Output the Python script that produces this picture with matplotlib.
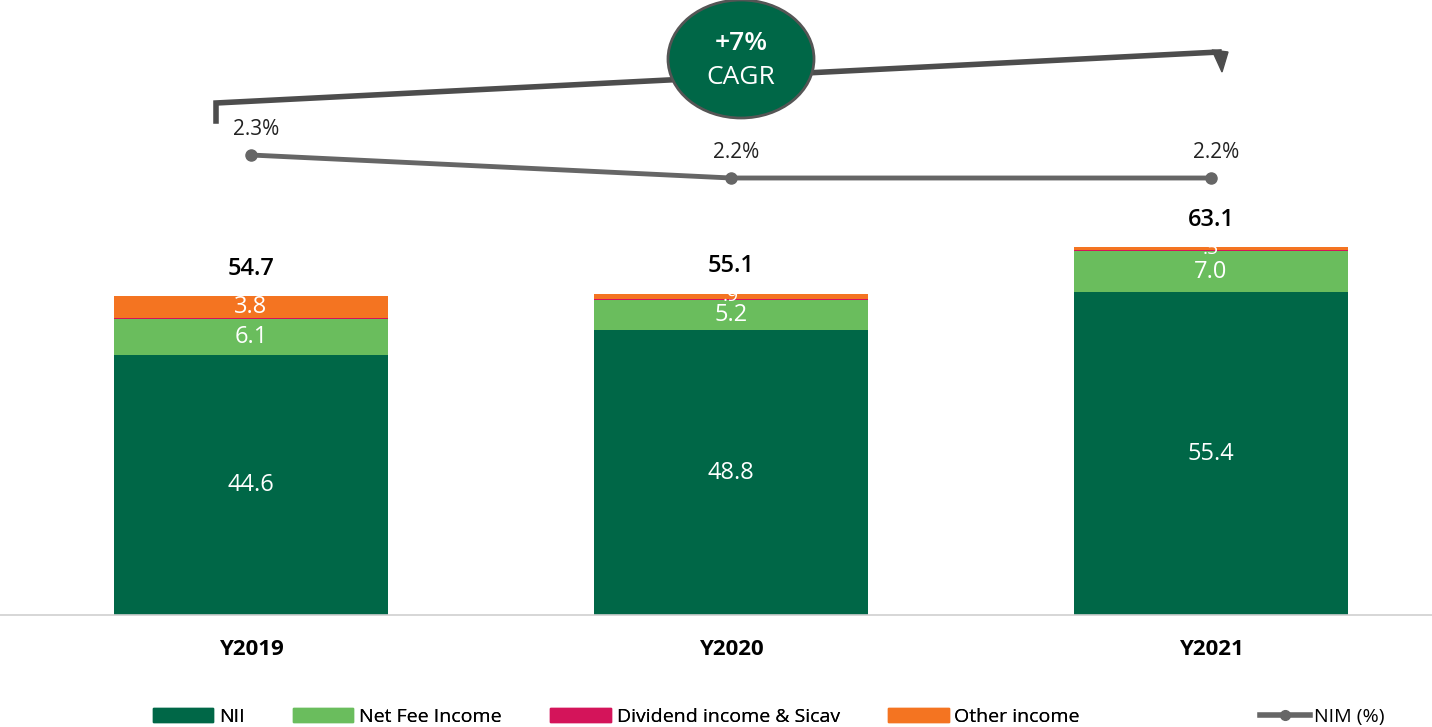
import matplotlib.pyplot as plt
import numpy as np
from matplotlib.patches import Ellipse, Polygon
from matplotlib.lines import Line2D
from matplotlib.patches import Patch

years = ['Y2019', 'Y2020', 'Y2021']
nii = [44.6, 48.8, 55.4]
fee = [6.1, 5.2, 7.0]
dividend = [0.2, 0.2, 0.2]
other = [3.8, 0.9, 0.5]
totals = [54.7, 55.1, 63.1]
nim = [2.3, 2.2, 2.2]

c_nii = '#006747'
c_fee = '#6abd5d'
c_div = '#d4145a'
c_oth = '#f47421'
c_nim = '#666666'

font = ['Open Sans', 'DejaVu Sans']

W, H = 1432, 727
fig = plt.figure(figsize=(W / 100, H / 100), dpi=100)
ax = fig.add_axes([0, 112 / H, 1, 615 / H])

x = np.arange(len(years))
bw = 0.57
series = [(nii, c_nii, 'NII'), (fee, c_fee, 'Net Fee Income'),
          (dividend, c_div, 'Dividend income & Sicav'), (other, c_oth, 'Other income')]
bottom = np.zeros(len(years))
for vals, col, name in series:
    ax.bar(x, vals, bw, bottom=bottom, color=col, edgecolor='none', label=name)
    for xi, b, v in zip(x, bottom, vals):
        if v >= 0.5:
            txt = f'{v:.1f}'
            if v < 1:
                txt = txt[1:]
            ax.text(xi, b + v / 2, txt, ha='center', va='center', color='white',
                    fontsize=17 if v >= 1 else 14, family=font)
    bottom += np.array(vals)

for xi, t, top in zip(x, totals, bottom):
    ax.annotate(f'{t:.1f}', (xi, top), xytext=(0, 11), textcoords='offset points',
                ha='center', va='bottom', fontsize=17, color='black',
                family=font, fontweight='semibold')

ax.set_xlim((0 - 251) / 480, (W - 251) / 480)
ax.set_ylim(0, 615 / 5.83)
ax.set_yticks([])
ax.set_xticks(x)
ax.set_xticklabels(years, fontsize=16, fontweight='bold', family=font)
ax.tick_params(axis='x', length=0, pad=17)
for s in ['top', 'right', 'left']:
    ax.spines[s].set_visible(False)
ax.spines['bottom'].set_color('#d0d0d0')
ax.spines['bottom'].set_linewidth(1.2)

ax2 = ax.twinx()
ax2.plot(x, nim, color=c_nim, lw=3.5, marker='o', ms=8)
ax2.set_ylim(2.2 - (615 - 178) / 230, 2.3 + 155 / 230)
ax2.set_yticks([])
for s in ['top', 'right', 'left', 'bottom']:
    ax2.spines[s].set_visible(False)
for xi, v in zip(x, nim):
    ax2.annotate(f'{v:.1f}%', (xi, v), xytext=(4, 11), textcoords='offset points',
                 ha='center', va='bottom', fontsize=15, color='#222222', family=font)


def px(a, b):
    return (a / W, 1 - b / H)


arrow_pts = [px(216, 121), px(216, 103), px(1219, 52)]
fig.add_artist(Line2D([p[0] for p in arrow_pts], [p[1] for p in arrow_pts],
                      transform=fig.transFigure, color='#4d4d4d', lw=4,
                      solid_joinstyle='miter'))
fig.add_artist(Polygon([px(1212, 50), px(1228, 52), px(1222, 72)], closed=True,
                       transform=fig.transFigure, color='#4d4d4d'))
fig.add_artist(Ellipse(px(741, 59), 146 / W, 118 / H, transform=fig.transFigure,
                       facecolor=c_nii, edgecolor='#555555', lw=2, zorder=5))
fig.text(741 / W, 1 - 43 / H, '+7%', ha='center', va='center', color='white',
         fontsize=19, fontweight='semibold', family=font, zorder=6)
fig.text(741 / W, 1 - 77 / H, 'CAGR', ha='center', va='center', color='white',
         fontsize=19, family=font, zorder=6)

lfont = {'family': font, 'size': 14}
handles = [Patch(color=c, label=n) for _, c, n in series]
leg = fig.legend(handles=handles, loc='center left', bbox_to_anchor=(145 / W, 1 - 717 / H),
                 ncol=4, frameon=False, prop=lfont, handlelength=3.1, handleheight=0.7,
                 columnspacing=2.5, handletextpad=0.3, borderaxespad=0)
fig.add_artist(leg)
nim_h = Line2D([0], [0], color=c_nim, lw=4, marker='o', ms=7, label='NIM (%)')
fig.legend(handles=[nim_h], loc='center left', bbox_to_anchor=(1252 / W, 1 - 717 / H),
           frameon=False, prop=lfont, handlelength=2.6, handletextpad=0.2, borderaxespad=0)

fig.savefig('out.png', dpi=100)
